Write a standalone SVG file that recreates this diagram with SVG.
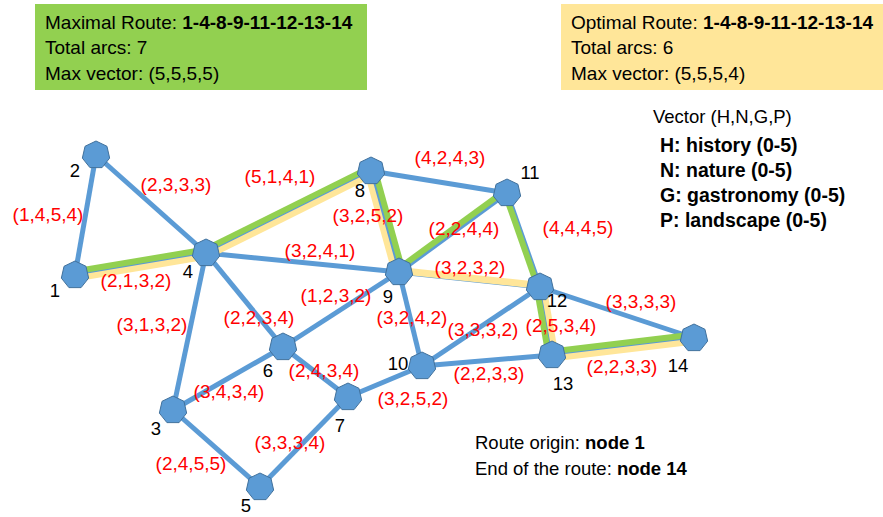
<svg xmlns="http://www.w3.org/2000/svg" xmlns:xlink="http://www.w3.org/1999/xlink" width="883" height="517" viewBox="0 0 883 517">
<style>
.t{font-family:"Liberation Sans",Arial,sans-serif;font-size:19px;fill:#000}
.lg{font-family:"Liberation Sans",Arial,sans-serif;font-size:18.5px;fill:#000}
.lb{font-family:"Liberation Sans",Arial,sans-serif;font-size:19.5px;font-weight:bold;fill:#000}
.b{font-weight:bold}
.lbl{font-family:"Liberation Sans",Arial,sans-serif;font-size:19px;fill:#FF0000;text-anchor:middle}
.num{font-family:"Liberation Sans",Arial,sans-serif;font-size:18.5px;fill:#000;text-anchor:middle}
.e{stroke:#5B9BD5;stroke-width:5;fill:none}
.g{stroke:#92D050;stroke-width:6;fill:none}
.y{stroke:#FFE699;stroke-width:6;fill:none}
.n{fill:#5B9BD5;stroke:#41719C;stroke-width:1}
</style>
<defs>
<polygon id="hep" points="0,-14 10.95,-8.73 13.65,3.12 6.07,12.61 -6.07,12.61 -13.65,3.12 -10.95,-8.73"/>
</defs>
<rect x="35" y="4" width="332" height="86" fill="#92D050"/>
<text class="t" x="45" y="29">Maximal Route: <tspan class="b">1-4-8-9-11-12-13-14</tspan></text>
<text class="t" x="45" y="54">Total arcs: 7</text>
<text class="t" x="45" y="80">Max vector: (5,5,5,5)</text>
<rect x="561" y="4" width="322" height="86" fill="#FFE699"/>
<text class="t" x="571" y="29">Optimal Route: <tspan class="b">1-4-8-9-11-12-13-14</tspan></text>
<text class="t" x="571" y="54">Total arcs: 6</text>
<text class="t" x="571" y="80">Max vector: (5,5,5,4)</text>
<text class="lg" x="653" y="123">Vector (H,N,G,P)</text>
<text class="lb" x="660" y="152">H: history (0-5)</text>
<text class="lb" x="660" y="177">N: nature (0-5)</text>
<text class="lb" x="660" y="202">G: gastronomy (0-5)</text>
<text class="lb" x="660" y="227">P: landscape (0-5)</text>
<text class="lg" x="475" y="449">Route origin: <tspan class="b">node 1</tspan></text>
<text class="lg" x="475" y="475">End of the route: <tspan class="b">node 14</tspan></text>
<g id="connectors">
<line class="e" x1="75" y1="275" x2="96" y2="155"/>
<line class="e" x1="96" y1="155" x2="206" y2="253"/>
<line class="e" x1="75" y1="275" x2="206" y2="253"/>
<line class="e" x1="206" y1="253" x2="371" y2="171"/>
<line class="e" x1="206" y1="253" x2="399" y2="272"/>
<line class="e" x1="206" y1="253" x2="283" y2="347"/>
<line class="e" x1="206" y1="253" x2="173" y2="410"/>
<line class="e" x1="371" y1="171" x2="507" y2="193"/>
<line class="e" x1="371" y1="171" x2="399" y2="272"/>
<line class="e" x1="399" y1="272" x2="507" y2="193"/>
<line class="e" x1="507" y1="193" x2="540" y2="287"/>
<line class="e" x1="399" y1="272" x2="540" y2="287"/>
<line class="e" x1="399" y1="272" x2="283" y2="347"/>
<line class="e" x1="399" y1="272" x2="422" y2="366"/>
<line class="e" x1="422" y1="366" x2="540" y2="287"/>
<line class="e" x1="540" y1="287" x2="694" y2="338"/>
<line class="e" x1="540" y1="287" x2="552" y2="355"/>
<line class="e" x1="552" y1="355" x2="694" y2="338"/>
<line class="e" x1="422" y1="366" x2="552" y2="355"/>
<line class="e" x1="422" y1="366" x2="348" y2="397"/>
<line class="e" x1="283" y1="347" x2="348" y2="397"/>
<line class="e" x1="283" y1="347" x2="173" y2="410"/>
<line class="e" x1="173" y1="410" x2="260" y2="487"/>
<line class="e" x1="260" y1="487" x2="348" y2="397"/>
<line class="g" x1="74.4" y1="271.5" x2="205.4" y2="249.5"/>
<line class="y" x1="75.6" y1="278.5" x2="206.6" y2="256.5"/>
<line class="g" x1="204.4" y1="249.9" x2="369.4" y2="167.9"/>
<line class="y" x1="207.6" y1="256.1" x2="372.6" y2="174.1"/>
<line class="y" x1="367.2" y1="172" x2="395.2" y2="273"/>
<line class="g" x1="374.8" y1="170" x2="402.8" y2="271"/>
<line class="g" x1="397.2" y1="269.6" x2="505.2" y2="190.6"/>
<line class="g" x1="505.1" y1="193.7" x2="538.1" y2="287.7"/>
<line class="y" x1="399.2" y1="270.5" x2="540.2" y2="285.5" style="stroke-width:7"/>
<line class="g" x1="536.6" y1="287.6" x2="548.6" y2="355.6"/>
<line class="y" x1="543.4" y1="286.4" x2="555.4" y2="354.4"/>
<line class="g" x1="551.6" y1="351.5" x2="693.6" y2="334.5"/>
<line class="y" x1="552.4" y1="358.5" x2="694.4" y2="341.5"/>
<text class="lbl" x="48" y="221">(1,4,5,4)</text>
<text class="lbl" x="176" y="191">(2,3,3,3)</text>
<text class="lbl" x="280" y="183">(5,1,4,1)</text>
<text class="lbl" x="450" y="164">(4,2,4,3)</text>
<text class="lbl" x="368" y="222">(3,2,5,2)</text>
<text class="lbl" x="464" y="235">(2,2,4,4)</text>
<text class="lbl" x="578" y="234">(4,4,4,5)</text>
<text class="lbl" x="320" y="257">(3,2,4,1)</text>
<text class="lbl" x="136" y="287">(2,1,3,2)</text>
<text class="lbl" x="470" y="274">(3,2,3,2)</text>
<text class="lbl" x="336" y="302">(1,2,3,2)</text>
<text class="lbl" x="259" y="324">(2,2,3,4)</text>
<text class="lbl" x="412" y="324">(3,2,4,2)</text>
<text class="lbl" x="483" y="336">(3,3,3,2)</text>
<text class="lbl" x="561" y="332">(2,5,3,4)</text>
<text class="lbl" x="641" y="308">(3,3,3,3)</text>
<text class="lbl" x="152" y="331">(3,1,3,2)</text>
<text class="lbl" x="324" y="377">(2,4,3,4)</text>
<text class="lbl" x="229" y="398">(3,4,3,4)</text>
<text class="lbl" x="489" y="380">(2,2,3,3)</text>
<text class="lbl" x="622" y="373">(2,2,3,3)</text>
<text class="lbl" x="413" y="405">(3,2,5,2)</text>
<text class="lbl" x="290" y="449">(3,3,3,4)</text>
<text class="lbl" x="191" y="470">(2,4,5,5)</text>
</g>
<g id="node1"><use xlink:href="#hep" class="n" x="75" y="275"/><text class="num" x="55" y="297">1</text></g>
<g id="node2"><use xlink:href="#hep" class="n" x="96" y="155"/><text class="num" x="75" y="177">2</text></g>
<g id="node3"><use xlink:href="#hep" class="n" x="173" y="410"/><text class="num" x="156" y="435">3</text></g>
<g id="node4"><use xlink:href="#hep" class="n" x="206" y="253"/><text class="num" x="188" y="278">4</text></g>
<g id="node5"><use xlink:href="#hep" class="n" x="260" y="487"/><text class="num" x="246" y="512">5</text></g>
<g id="node6"><use xlink:href="#hep" class="n" x="283" y="347"/><text class="num" x="268" y="377">6</text></g>
<g id="node7"><use xlink:href="#hep" class="n" x="348" y="397"/><text class="num" x="340" y="432">7</text></g>
<g id="node8"><use xlink:href="#hep" class="n" x="371" y="171"/><text class="num" x="360" y="197">8</text></g>
<g id="node9"><use xlink:href="#hep" class="n" x="399" y="272"/><text class="num" x="388" y="303">9</text></g>
<g id="node10"><use xlink:href="#hep" class="n" x="422" y="366"/><text class="num" x="398" y="370">10</text></g>
<g id="node11"><use xlink:href="#hep" class="n" x="507" y="193"/><text class="num" x="530" y="179">11</text></g>
<g id="node12"><use xlink:href="#hep" class="n" x="540" y="287"/><text class="num" x="557" y="307">12</text></g>
<g id="node13"><use xlink:href="#hep" class="n" x="552" y="355"/><text class="num" x="563" y="390">13</text></g>
<g id="node14"><use xlink:href="#hep" class="n" x="694" y="338"/><text class="num" x="678" y="372">14</text></g>
</svg>
